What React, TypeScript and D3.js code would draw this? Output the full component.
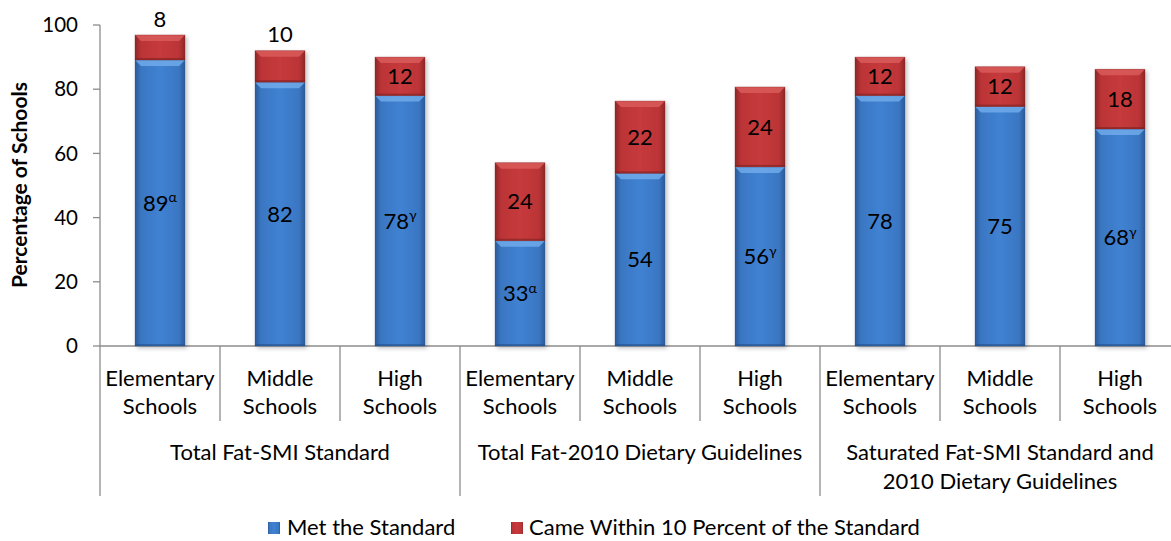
import React from 'react';
import * as d3 from 'd3';

const categoryLines: string[][] = [
  ['Elementary', 'Schools'], ['Middle', 'Schools'], ['High', 'Schools'],
  ['Elementary', 'Schools'], ['Middle', 'Schools'], ['High', 'Schools'],
  ['Elementary', 'Schools'], ['Middle', 'Schools'], ['High', 'Schools'],
];
const groupLines: string[][] = [
  ['Total Fat-SMI Standard'],
  ['Total Fat-2010 Dietary Guidelines'],
  ['Saturated Fat-SMI Standard and', '2010 Dietary Guidelines'],
];
const metValues = [89.1, 82.2, 78.0, 32.8, 53.8, 55.8, 78.0, 74.6, 67.6];
const withinValues = [7.8, 9.8, 12.0, 24.3, 22.5, 24.9, 12.0, 12.4, 18.6];
const metLabels = ['89', '82', '78', '33', '54', '56', '78', '75', '68'];
const metMarks = ['α', '', 'γ', 'α', '', 'γ', '', '', 'γ'];
const withinLabels = ['8', '10', '12', '24', '22', '24', '12', '12', '18'];
const withinAbove = [true, true, false, false, false, false, false, false, false];
const yTicks = [0, 20, 40, 60, 80, 100];
const seriesNames = ['Met the Standard', 'Came Within 10 Percent of the Standard'];

const FONT = 'Lato, "Open Sans", sans-serif';

export default function App() {
  const W = 1171, H = 541;
  const x = d3.scaleBand<number>()
    .domain(d3.range(metValues.length))
    .range([100, 1180])
    .paddingInner(70 / 120)
    .paddingOuter(35 / 120);
  const step = x.step();
  const bw = x.bandwidth();
  const y = d3.scaleLinear().domain([0, 100]).range([346, 25]);
  const axisColor = '#8c8c8c';
  const fs = 22;
  const fsTick = 20.5;

  const seg = (i: number, y0: number, y1: number, kind: 'b' | 'r') => {
    const x0 = x(i)!;
    const top = y(y1), bot = y(y0);
    const h = bot - top;
    const bev = Math.min(6, h / 3);
    const light = kind === 'b' ? '#6eaaea' : '#d95a5b';
    const dark = kind === 'b' ? '#27528a' : '#7e2222';
    return (
      <g key={kind + i}>
        <rect x={x0} y={top} width={bw} height={h} fill={`url(#grad-${kind})`} />
        <path d={`M${x0},${top}L${x0 + bw},${top}L${x0 + bw - 6},${top + bev}L${x0 + 6},${top + bev}Z`} fill={light} opacity={0.85} />
        <rect x={x0} y={bot - 2} width={bw} height={2} fill={dark} opacity={0.6} />
        <rect x={x0} y={top} width={bw} height={h} fill="none" stroke={dark} strokeOpacity={0.35} strokeWidth={0.8} />
      </g>
    );
  };

  return (
    <svg width={W} height={H} style={{ position: 'absolute', left: 0, top: 0, background: '#fff' }} fontFamily={FONT}>
      <defs>
        <linearGradient id="grad-b" x1="0" x2="1" y1="0" y2="0">
          <stop offset="0%" stopColor="#2a5a98" />
          <stop offset="12%" stopColor="#3a76c2" />
          <stop offset="50%" stopColor="#4082d2" />
          <stop offset="88%" stopColor="#3a76c2" />
          <stop offset="100%" stopColor="#2a5a98" />
        </linearGradient>
        <linearGradient id="grad-r" x1="0" x2="1" y1="0" y2="0">
          <stop offset="0%" stopColor="#8e2828" />
          <stop offset="12%" stopColor="#bb3436" />
          <stop offset="50%" stopColor="#c63a3c" />
          <stop offset="88%" stopColor="#bb3436" />
          <stop offset="100%" stopColor="#8e2828" />
        </linearGradient>
        <filter id="shadow" x="-20%" y="-5%" width="140%" height="115%">
          <feDropShadow dx="2" dy="2" stdDeviation="2" floodColor="#000" floodOpacity="0.25" />
        </filter>
      </defs>

      {/* Y axis */}
      <line x1={100} x2={100} y1={y(100)} y2={y(0)} stroke={axisColor} strokeWidth={1.3} />
      {yTicks.map(t => (
        <g key={t}>
          <line x1={93} x2={100} y1={y(t)} y2={y(t)} stroke={axisColor} strokeWidth={1.3} />
          <text x={78} y={y(t)} dy="0.35em" textAnchor="end" fontSize={fsTick} fill="#000">{t}</text>
        </g>
      ))}
      <text transform={`translate(27,185) rotate(-90)`} textAnchor="middle" fontSize={21} fontWeight="bold" fill="#000">
        Percentage of Schools
      </text>

      {/* X axis */}
      <line x1={100} x2={1180} y1={y(0)} y2={y(0)} stroke={axisColor} strokeWidth={1.3} />
      {d3.range(metValues.length + 1).map(k => {
        const xx = 100 + k * step;
        const isGroup = k % 3 === 0;
        return <line key={'s' + k} x1={xx} x2={xx} y1={y(0)} y2={isGroup ? 496 : 421} stroke={axisColor} strokeWidth={1.3} />;
      })}

      {/* Bars */}
      {metValues.map((m, i) => (
        <g key={'bar' + i} filter="url(#shadow)">
          {seg(i, 0, m, 'b')}
          {seg(i, m, m + withinValues[i], 'r')}
        </g>
      ))}

      {/* Value labels */}
      {metValues.map((m, i) => {
        const cx = x(i)! + bw / 2;
        const cy = (y(0) + y(m)) / 2;
        return (
          <text key={'ml' + i} x={cx} y={cy} dy="0.35em" textAnchor="middle" fontSize={fs} fill="#000">
            {metLabels[i]}
            {metMarks[i] && <tspan fontSize={14} dy="-0.6em">{metMarks[i]}</tspan>}
          </text>
        );
      })}
      {withinValues.map((v, i) => {
        const cx = x(i)! + bw / 2;
        const top = y(metValues[i] + v);
        const cy = withinAbove[i] ? top - 16 : (y(metValues[i]) + top) / 2;
        return (
          <text key={'wl' + i} x={cx} y={cy} dy="0.35em" textAnchor="middle" fontSize={fs} fill="#000">
            {withinLabels[i]}
          </text>
        );
      })}

      {/* Category labels */}
      {categoryLines.map((lines, i) => (
        <text key={'c' + i} x={x(i)! + bw / 2} textAnchor="middle" fontSize={fs} fill="#000">
          {lines.map((l, j) => (
            <tspan key={j} x={x(i)! + bw / 2} y={378 + j * 28} dy="0.35em">{l}</tspan>
          ))}
        </text>
      ))}
      {groupLines.map((lines, g) => {
        const cx = 100 + (g * 3 + 1.5) * step;
        return (
          <text key={'g' + g} textAnchor="middle" fontSize={fs} fill="#000">
            {lines.map((l, j) => (
              <tspan key={j} x={cx} y={452 + j * 29} dy="0.35em">{l}</tspan>
            ))}
          </text>
        );
      })}

      {/* Legend */}
      <g>
        <rect x={268} y={522} width={12} height={12} fill="url(#grad-b)" />
        <text x={287} y={527} dy="0.35em" fontSize={fs} fill="#000">{seriesNames[0]}</text>
        <rect x={511} y={522} width={12} height={12} fill="url(#grad-r)" />
        <text x={529} y={527} dy="0.35em" fontSize={fs} fill="#000">{seriesNames[1]}</text>
      </g>
    </svg>
  );
}
